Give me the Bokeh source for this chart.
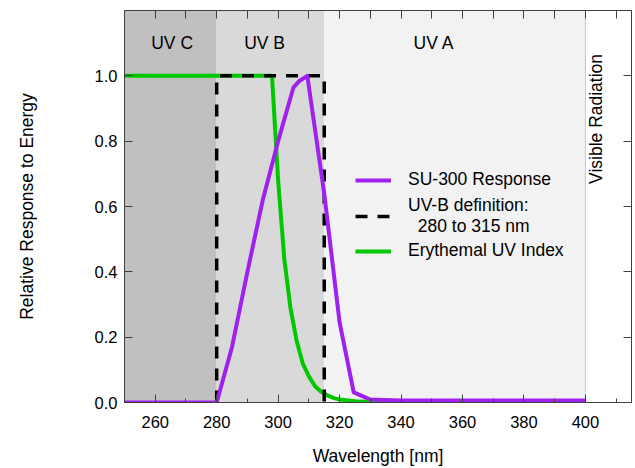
from math import pi
from bokeh.plotting import figure
from bokeh.models import (LinearAxis, FixedTicker, BoxAnnotation, Span, Legend,
                          LegendItem, PrintfTickFormatter)
from bokeh.core.properties import value
from bokeh.embed import file_html
from bokeh.resources import INLINE

# ---------------- data ----------------
band_names = ["UV C", "UV B", "UV A"]
band_left = [250, 280, 315]
band_right = [280, 315, 400]
band_colors = ["#c0c0c0", "#d9d9d9", "#f2f2f2"]
band_label_x = [265.5, 295.6, 350.7]
band_label_y = [1.1, 1.1, 1.1]
visible_label = ["Visible Radiation"]
visible_x = [403.6]
visible_y = [0.868]

series_names = ["SU-300 Response", "UV-B definition:\n  280 to 315 nm", "Erythemal UV Index"]

su300_wl = [250, 280, 285, 290, 295, 300, 305, 307, 309.5, 315, 320, 324.6, 330, 340, 350, 360, 370, 380, 390, 400]
su300_resp = [0.0, 0.0, 0.17, 0.40, 0.62, 0.80, 0.965, 0.985, 1.0, 0.64, 0.245, 0.031, 0.009, 0.006, 0.006, 0.006, 0.006, 0.006, 0.006, 0.006]

uvb_wl = [280, 280, 315, 315]
uvb_val = [0.0, 1.0, 1.0, 0.0]

ery_wl = [250, 298, 300, 302, 304, 306, 308, 310, 312, 314, 316, 318, 320, 325, 330, 340, 360, 380, 400]
ery_val = [1.0, 1.0, 0.68, 0.44, 0.29, 0.19, 0.12, 0.08, 0.05, 0.033, 0.022, 0.014, 0.009, 0.004, 0.0015, 0.001, 0.0007, 0.0005, 0.0003]

x_ticks = [260, 280, 300, 320, 340, 360, 380, 400]
x_minor_ticks = [250, 270, 290, 310, 330, 350, 370, 390, 410]
top_ticks = [260, 270, 280, 290, 300, 310, 320, 330, 340, 350, 360, 370, 380, 390, 400, 410]
y_ticks = [0.0, 0.2, 0.4, 0.6, 0.8, 1.0]

FONT = "Liberation Sans"
FRAME = "#404040"

p = figure(width=635, height=468, x_range=(250, 415), y_range=(0, 1.2),
           output_backend="svg", toolbar_location=None,
           min_border_left=124, min_border_right=4, min_border_top=10, min_border_bottom=66,
           x_axis_label="Wavelength [nm]", y_axis_label="Relative Response to Energy")
p.outline_line_color = FRAME
p.outline_line_width = 1
p.grid.visible = False
p.background_fill_color = "white"
p.border_fill_color = "white"

# bands
for l, r, c in zip(band_left, band_right, band_colors):
    p.add_layout(BoxAnnotation(left=l, right=r, fill_color=c, fill_alpha=1.0, line_alpha=0, level="underlay"))
p.add_layout(Span(location=band_right[-1], dimension="height", line_color="#c8c8c8", line_width=1, level="underlay"))

# band labels
p.text(x=band_label_x, y=band_label_y, text=band_names, text_align="center", text_baseline="middle",
       text_font=value(FONT), text_font_size="17.5px", text_color="black")
p.text(x=visible_x, y=visible_y, text=visible_label, angle=pi / 2, text_align="center", text_baseline="middle",
       text_font=value(FONT), text_font_size="17.5px", text_color="black")

# lines
r_green = p.line(ery_wl, ery_val, line_color="#00c800", line_width=4, line_join="round")
r_dash = p.line(uvb_wl, uvb_val, line_color="black", line_width=3.5, line_dash="12 10", line_join="miter")
r_purple = p.line(su300_wl, su300_resp, line_color="#a020f0", line_width=4, line_join="round")

# legend: one block per entry for precise row placement
legend_renderers = [r_purple, r_dash, r_green]
legend_locs = [(231, 212), (231, 165), (231, 141)]
for name, rend, loc in zip(series_names, legend_renderers, legend_locs):
    lg = Legend(items=[LegendItem(label=name, renderers=[rend])],
                location=loc, padding=0, margin=0, spacing=0,
                glyph_width=36, label_standoff=17,
                label_text_font=FONT, label_text_font_size="17.5px", label_text_color="black",
                background_fill_alpha=0, border_line_alpha=0)
    p.add_layout(lg)

# bottom axis
xa = p.xaxis[0]
xa.ticker = FixedTicker(ticks=x_ticks, minor_ticks=x_minor_ticks)
xa.major_tick_in = 8
xa.major_tick_out = 0
xa.minor_tick_in = 4
xa.minor_tick_out = 0
xa.major_label_standoff = 13
xa.axis_label_standoff = 15
xa.axis_line_color = FRAME
xa.major_tick_line_color = FRAME
xa.minor_tick_line_color = FRAME
xa.major_label_text_font = FONT
xa.major_label_text_font_size = "16.5px"
xa.major_label_text_color = "black"
xa.axis_label_text_font = FONT
xa.axis_label_text_font_size = "17.5px"
xa.axis_label_text_font_style = "normal"
xa.axis_label_text_color = "black"

# left axis
ya = p.yaxis[0]
ya.ticker = FixedTicker(ticks=y_ticks, minor_ticks=[])
ya.formatter = PrintfTickFormatter(format="%.1f")
ya.major_tick_in = 8
ya.major_tick_out = 0
ya.minor_tick_in = 0
ya.minor_tick_out = 0
ya.major_label_standoff = 7
ya.axis_label_standoff = 55
ya.axis_line_color = FRAME
ya.major_tick_line_color = FRAME
ya.major_label_text_font = FONT
ya.major_label_text_font_size = "16.5px"
ya.major_label_text_color = "black"
ya.axis_label_text_font = FONT
ya.axis_label_text_font_size = "17.5px"
ya.axis_label_text_font_style = "normal"
ya.axis_label_text_color = "black"

# top axis (ticks only)
ta = LinearAxis(ticker=FixedTicker(ticks=top_ticks, minor_ticks=[]),
                major_tick_in=8, major_tick_out=0, minor_tick_in=0, minor_tick_out=0,
                major_label_overrides={t: "" for t in top_ticks}, major_label_standoff=0,
                axis_line_color=FRAME, major_tick_line_color=FRAME)
p.add_layout(ta, "above")

# right axis (ticks only)
ra = LinearAxis(ticker=FixedTicker(ticks=y_ticks, minor_ticks=[]),
                major_tick_in=8, major_tick_out=0, minor_tick_in=0, minor_tick_out=0,
                major_label_overrides={t: "" for t in y_ticks}, major_label_standoff=0,
                axis_line_color=FRAME, major_tick_line_color=FRAME)
p.add_layout(ra, "right")

open("out.html", "w").write(file_html(p, INLINE))
